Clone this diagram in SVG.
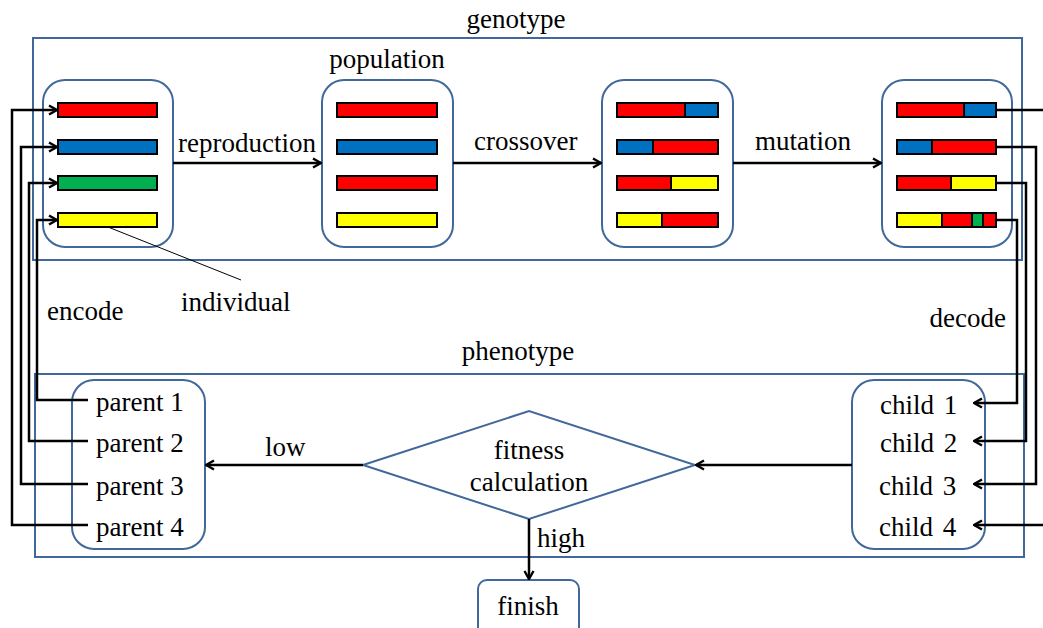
<svg xmlns="http://www.w3.org/2000/svg" width="1043" height="628" viewBox="0 0 1043 628">
  <defs>
    <marker id="arr" viewBox="0 0 12 12" refX="11" refY="6" markerWidth="12" markerHeight="12" markerUnits="userSpaceOnUse" orient="auto">
      <path d="M3,1.5 L11,6 L3,10.5" fill="none" stroke="#000" stroke-width="2.4"/>
    </marker>
  </defs>
  <style>
    text { font-family: "Liberation Serif", Tinos, "DejaVu Serif", serif; font-size: 27px; fill: #000; }
    .child { word-spacing: 3px; }
    .frame { fill: none; stroke: #41689a; stroke-width: 2; }
    .node { fill: #fff; stroke: #41689a; stroke-width: 2; }
    .bar { stroke: #000; stroke-width: 2; }
    .r { fill: #ff0000; } .b { fill: #0070c0; } .g { fill: #00b050; } .y { fill: #ffff00; }
    .wire { fill: none; stroke: #000; stroke-width: 2.5; }
    .thin { fill: none; stroke: #000; stroke-width: 1; }
  </style>
  <rect width="1043" height="628" fill="#fff"/>

  <!-- region frames -->
  <g id="genotype">
    <rect class="frame" x="33" y="38" width="989" height="222"/>
    <text x="516" y="28" text-anchor="middle">genotype</text>
  </g>
  <g id="phenotype">
    <rect class="frame" x="35" y="374" width="989" height="183"/>
    <text x="518" y="360" text-anchor="middle">phenotype</text>
  </g>

  <!-- initial population -->
  <g id="pop-initial">
    <rect class="node" x="43" y="80" width="130" height="167" rx="22"/>
    <rect class="bar r" x="58" y="103" width="99" height="14"/>
    <rect class="bar b" x="58" y="140" width="99" height="14"/>
    <rect class="bar g" x="58" y="176" width="99" height="14"/>
    <rect class="bar y" x="58" y="213" width="99" height="14"/>
  </g>

  <g id="pop-selected">
    <rect class="node" x="322" y="80" width="131" height="167" rx="22"/>
    <text x="387" y="68" text-anchor="middle">population</text>
    <rect class="bar r" x="337" y="103" width="100" height="14"/>
    <rect class="bar b" x="337" y="140" width="100" height="14"/>
    <rect class="bar r" x="337" y="176" width="100" height="14"/>
    <rect class="bar y" x="337" y="213" width="100" height="14"/>
  </g>

  <g id="pop-crossover">
    <rect class="node" x="602" y="80" width="131" height="167" rx="22"/>
    <rect class="bar r" x="617" y="103" width="68" height="14"/>
    <rect class="bar b" x="685" y="103" width="33" height="14"/>
    <rect class="bar b" x="617" y="140" width="36" height="14"/>
    <rect class="bar r" x="653" y="140" width="65" height="14"/>
    <rect class="bar r" x="617" y="176" width="54" height="14"/>
    <rect class="bar y" x="671" y="176" width="47" height="14"/>
    <rect class="bar y" x="617" y="213" width="45" height="14"/>
    <rect class="bar r" x="662" y="213" width="56" height="14"/>
  </g>

  <g id="pop-mutation">
    <rect class="node" x="882" y="80" width="130" height="167" rx="22"/>
    <rect class="bar r" x="897" y="103" width="67" height="14"/>
    <rect class="bar b" x="964" y="103" width="32" height="14"/>
    <rect class="bar b" x="897" y="140" width="35" height="14"/>
    <rect class="bar r" x="932" y="140" width="64" height="14"/>
    <rect class="bar r" x="897" y="176" width="54" height="14"/>
    <rect class="bar y" x="951" y="176" width="45" height="14"/>
    <rect class="bar y" x="897" y="213" width="45" height="14"/>
    <rect class="bar r" x="942" y="213" width="30" height="14"/>
    <rect class="bar g" x="972" y="213" width="11" height="14"/>
    <rect class="bar r" x="983" y="213" width="13" height="14"/>
  </g>

  <g id="parents">
    <rect class="node" x="72" y="380" width="133" height="169" rx="22"/>
    <text x="96" y="411">parent 1</text>
    <text x="96" y="452">parent 2</text>
    <text x="96" y="495">parent 3</text>
    <text x="96" y="536">parent 4</text>
  </g>

  <g id="children">
    <rect class="node" x="852" y="380" width="133" height="169" rx="22"/>
    <text class="child" x="880" y="414">child 1</text>
    <text class="child" x="880" y="452">child 2</text>
    <text class="child" x="879" y="495">child 3</text>
    <text class="child" x="879" y="536">child 4</text>
  </g>

  <g id="fitness">
    <polygon class="node" points="363,465 529,411 695,465 529,519"/>
    <text x="529" y="459" text-anchor="middle">fitness</text>
    <text x="529" y="491" text-anchor="middle">calculation</text>
  </g>

  <g id="finish">
    <rect class="node" x="478" y="580" width="101" height="60" rx="9"/>
    <text x="528" y="615" text-anchor="middle">finish</text>
  </g>

  <!-- connectors, drawn over the nodes -->
  <g id="connectors">
    <line class="wire" x1="173" y1="163" x2="321" y2="163" marker-end="url(#arr)"/>
    <line class="wire" x1="453" y1="163" x2="601" y2="163" marker-end="url(#arr)"/>
    <line class="wire" x1="733" y1="163" x2="881" y2="163" marker-end="url(#arr)"/>

    <!-- encode: parents back to the genome bars -->
    <polyline class="wire" points="88,525 12,525 12,110 57,110" marker-end="url(#arr)"/>
    <polyline class="wire" points="88,484 21,484 21,147 57,147" marker-end="url(#arr)"/>
    <polyline class="wire" points="88,441 29,441 29,183 57,183" marker-end="url(#arr)"/>
    <polyline class="wire" points="88,400 37,400 37,220 57,220" marker-end="url(#arr)"/>

    <!-- decode: mutated bars to children -->
    <line class="wire" x1="997" y1="110" x2="1043" y2="110"/>
    <line class="wire" x1="1043" y1="525" x2="974" y2="525" marker-end="url(#arr)"/>
    <polyline class="wire" points="997,147 1036,147 1036,484 974,484" marker-end="url(#arr)"/>
    <polyline class="wire" points="997,183 1026,183 1026,441 974,441" marker-end="url(#arr)"/>
    <polyline class="wire" points="997,220 1017,220 1017,403 974,403" marker-end="url(#arr)"/>

    <line class="wire" x1="852" y1="465" x2="696" y2="465" marker-end="url(#arr)"/>
    <line class="wire" x1="363" y1="465" x2="206" y2="465" marker-end="url(#arr)"/>
    <line class="wire" x1="529" y1="519" x2="529" y2="579" marker-end="url(#arr)"/>

    <line class="thin" x1="108" y1="227" x2="241" y2="280"/>

    <text x="178" y="152">reproduction</text>
    <text x="474" y="150">crossover</text>
    <text x="755" y="150">mutation</text>
    <text x="265" y="456">low</text>
    <text x="537" y="547">high</text>
    <text x="47" y="320">encode</text>
    <text x="1006" y="327" text-anchor="end">decode</text>
    <text x="181" y="311">individual</text>
  </g>
</svg>
